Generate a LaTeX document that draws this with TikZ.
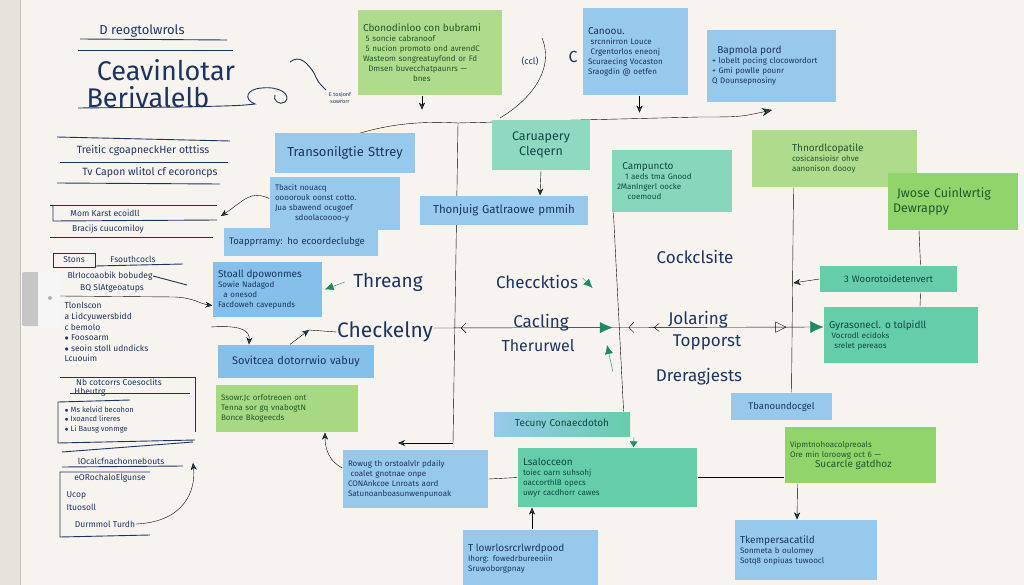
\documentclass[tikz,border=0pt]{standalone}
\usepackage{fontspec}
\setmainfont{Fira Sans}
\usetikzlibrary{arrows.meta,decorations.markings,backgrounds}

\definecolor{board}{HTML}{F7F4EF}
\definecolor{wall}{HTML}{E6E2DC}
\definecolor{ink}{HTML}{1D3461}
\definecolor{lineink}{HTML}{1F4D5C}
\definecolor{arrowgreen}{HTML}{1E8A62}
\definecolor{bluenote}{HTML}{97C9EC}
\definecolor{bluedeep}{HTML}{84C0EA}
\definecolor{greennote}{HTML}{AEDB8C}
\definecolor{greenvivid}{HTML}{92D46C}
\definecolor{tealnote}{HTML}{66CDAA}
\definecolor{teallight}{HTML}{8FD9C2}
\definecolor{greenink}{HTML}{1E5A2C}
\definecolor{tealink}{HTML}{0F4A44}

\newcommand{\nh}{\fontsize{10}{11.5}\selectfont} % note heading

\begin{document}
\begin{tikzpicture}[x=1pt,y=-1pt,line width=1.2pt,draw=lineink,text=ink,font=\fontsize{8}{10}\selectfont]
	\tikzstyle{note}=[rectangle,inner sep=5pt,align=left]
	\tikzstyle{BN}=[note,fill=bluenote,text=ink]       % BN = blue note
	\tikzstyle{GN}=[note,fill=greennote,text=greenink] % GN = green note
	\tikzstyle{TN}=[note,fill=tealnote,text=tealink]   % TN = teal note
	\tikzstyle{hand}=[inner sep=0pt,text=ink,align=left] % written straight on the board
	\tikzstyle{big}=[hand,font=\fontsize{17}{20}\selectfont]
	\tikzstyle{list}=[hand,font=\fontsize{8.5}{10.6}\selectfont]
	\tikzstyle{tip}=[-{Stealth[length=7pt,width=6pt]}]
	\tikzstyle{gtip}=[arrowgreen,-{Latex[length=9pt,width=8pt]}]
	\useasboundingbox (0,0) rectangle (1024,585);

	% notes
	\node[GN,text width=134pt,minimum height=85pt] (gn1) at (430,52.5) {{\nh Cbonodinloo con bubrami}\\ \ 5 soncie cabranoof\\ \ 5 nucion promoto ond avrendC\\ Wasteom songreatuyfond or Fd\\ \ \ Dmsen buvecchatpaunrs ---\\ \hspace*{50pt}bnes};
	\node[BN,text width=95pt,minimum height=87pt] (bn1) at (635.5,51.5) {{\nh Canoou.}\\ \ srcnnirron Louce\\ \ Crgentorlos eneonj\\ Scuraecing Vocaston\\ Sraogdin @ oetfen};
	\node[BN,text width=119pt,minimum height=72pt] (bn2) at (771.5,66) {\ \ {\nh Bapmola pord}\\ + lobelt pocing clocowordort\\ + Gmi powlle pounr\\ Q Dounsepnosiny};
	\node[BN,text width=130pt,minimum height=40pt,align=center,font=\fontsize{13}{15}\selectfont] (bn3) at (345,153) {Transonilgtie Sttrey};
	\node[BN,text width=120pt,minimum height=53pt] (bn4) at (335,203.5) {Tbacit nouacq\\ oooorouk oonst cotto.\\ Jua sbawend ocugoef\\ \hspace*{20pt}sdoolacoooo-y};
	\node[BN,text width=144pt,minimum height=28pt,font=\fontsize{9.5}{11}\selectfont] (bn5) at (301,242) {Toapprramy: ho ecoordeclubge};
	\node[TN,fill=teallight,text width=88pt,minimum height=50pt,align=center,font=\fontsize{12.5}{15}\selectfont] (tn1) at (541,145) {Caruapery\\ Cleqern};
	\node[BN,text width=158pt,minimum height=29pt,align=center,font=\fontsize{11.5}{13}\selectfont] (bn6) at (504,210.5) {Thonjuig Gatlraowe pmmih};
	\node[TN,fill=teallight!80!tealnote,text width=110pt,minimum height=62pt] (tn2) at (672,181) {\ \ {\nh Campuncto}\\ \ \ \ 1 aeds tma Gnood\\ 2ManIngerl oocke\\ \ \ \ \ coemoud};
	\node[GN,text width=155pt,minimum height=57pt] (gn2) at (834.5,158.5) {\hspace*{35pt}{\nh Thnordlcopatile}\\ \hspace*{35pt}cosicansioisr ohve\\ \hspace*{35pt}aanonison doooy};
	\node[GN,fill=greenvivid,text width=120pt,minimum height=57pt,font=\fontsize{12.5}{15}\selectfont] (gn3) at (953,201.5) {\ Jwose Cuinlwrtig\\ Dewrappy};
	\node[BN,fill=bluedeep,text width=99pt,minimum height=55pt] (bn7) at (267.5,289.5) {{\nh Stoall dpowonmes}\\ Sowie Nadagod\\ \ \ a onesod\\ Facdoweh cavepunds};
	\node[TN,text width=127pt,minimum height=26pt,align=center,font=\fontsize{9.5}{11}\selectfont] (tn3) at (888.5,279) {3 Woorotoidetenvert};
	\node[TN,text width=144pt,minimum height=56pt] (tn4) at (901,335) {{\nh Gyrasonecl. o tolpidll}\\ \ Vocrodl ecidoks\\ \ \ srelet pereaos};
	\node[BN,fill=bluedeep,text width=146pt,minimum height=33pt,align=center,font=\fontsize{11}{13}\selectfont] (bn8) at (296,361.5) {Sovitcea dotorrwio vabuy};
	\node[GN,fill=greennote!70!greenvivid,text width=132pt,minimum height=47pt] (gn4) at (287,408.5) {Ssowr.Jc orfotreoen ont\\ Tenna sor gq vnabogtN\\ Bonce Bkogeecds};
	\node[BN,text width=91pt,minimum height=27pt,align=center,font=\fontsize{9.5}{11}\selectfont] (bn9) at (781.5,406.5) {Tbanoundocgel};
	\node[TN,left color=bluenote,right color=tealnote,text width=126pt,minimum height=24pt,align=center,font=\fontsize{10}{11}\selectfont] (tn5) at (562,424) {Tecuny Conaecdotoh};
	\node[TN,text width=169pt,minimum height=59pt] (tn6) at (607.5,477.5) {{\nh Lsalocceon}\\ toiec oarn suhsohj\\ oaccorthlB opecs\\ uwyr cacdhorr cawes};
	\node[BN,text width=135pt,minimum height=58pt] (bn10) at (415.5,479) {Rowug th orstoalvlr pdaily\\ \ coalet gnotnae onpe\\ CONAnkcoe Lnroats aord\\ Satunoanboasunwenpunoak};
	\node[GN,fill=greenvivid,text width=141pt,minimum height=56pt] (gn5) at (860.5,455) {Vipmtnohoacolpreoals\\ Ore min loroowg oct 6 ---\\ \hspace*{25pt}{\nh Sucarcle gatdhoz}};
	\node[BN,text width=125pt,minimum height=57pt] (bn11) at (530.5,558.5) {{\nh T lowrlosrcrlwrdpood}\\ Ihorg: fowedrbureeoiin\\ Sruwoborgpnay};
	\node[BN,text width=132pt,minimum height=60pt] (bn12) at (806,550) {{\nh Tkempersacatild}\\ Sonmeta b oulomey\\ Sotq8 onpiuas tuwoocl};

	% words on the board
	\node[hand,font=\fontsize{13}{15}\selectfont] (hd1) at (142,31) {D reogtolwrols};
	\node[hand,font=\fontsize{27}{29}\selectfont] (hd2) at (166,70) {Ceavinlotar};
	\node[hand,font=\fontsize{27}{29}\selectfont] (hd3) at (148,97) {Berivalelb};
	\node[hand,font=\fontsize{5.5}{6.5}\selectfont] (esd) at (340,98) {E tosJonf\\ \ sowrorr};
	\node[hand,font=\fontsize{9}{11}\selectfont] (ccl) at (530,61) {(ccl)};
	\node[hand,font=\fontsize{16}{18}\selectfont] (cmk) at (573,57) {C};
	\node[list,font=\fontsize{10.5}{12}\selectfont] (l1) at (143,151) {Treitic cgoapneckHer otttiss};
	\node[list,font=\fontsize{10.5}{12}\selectfont] (l2) at (150,173) {Tv Capon wlitol cf ecoroncps};
	\node[list] (l3) at (105,213) {Mom Karst ecoidll};
	\node[list] (l4) at (108,229) {Bracijs cuucomiloy};
	\node[list] (l5) at (74,260) {Stons};
	\node[list] (l6) at (133,259) {Fsouthcocls};
	\node[list] (l7) at (110,276) {BlrIocoaobik bobudeg};
	\node[list] (l8) at (112,288) {BQ SlAtgeoatups};
	\node[list,anchor=north west] (l9) at (64,302) {Tlonlscon\\ a Lidcyuwersbidd\\ c bemolo\\ $\bullet$ Foosoarm\\ $\bullet$ seoin stoll udndicks\\ Lcuouim};
	\node[list] (l10) at (119,382) {Nb cotcorrs Coesoclits};
	\node[list] (l11) at (90,392) {Hbeutrg};
	\node[list,anchor=north west,font=\fontsize{7.5}{9.5}\selectfont] (l12) at (64,406) {$\bullet$ Ms kelvid becohon\\ $\bullet$ Ixoancd lireres\\ $\bullet$ Li Bausg vonmge};
	\node[list] (l13) at (121,461) {lOcalcfnachonnebouts};
	\node[list] (l14) at (110,478) {eORochaloElgunse};
	\node[list,anchor=north west,font=\fontsize{8.5}{13}\selectfont] (l15) at (66,491) {Ucop\\ Ituosoll};
	\node[list] (dur) at (105,524) {Durmmol Turdh};
	\node[big,font=\fontsize{19}{22}\selectfont] (thr) at (388,282) {Threang};
	\node[big,font=\fontsize{21}{23}\selectfont] (chkl) at (385,332) {Checkelny};
	\node[big] (chks) at (537,282) {Checcktios};
	\node[big] (cal) at (541,323) {Cacling};
	\node[big,font=\fontsize{16}{18}\selectfont] (ther) at (538,346) {Therurwel};
	\node[big] (cock) at (695,257) {Cockclsite};
	\node[big] (jol) at (698,320) {Jolaring};
	\node[big] (topp) at (707,342) {Topporst};
	\node[big] (drer) at (699,377) {Dreragjests};

	\begin{scope}[on background layer]
	\fill[board] (0,0) rectangle (1024,585);
	\fill[wall] (0,0) rectangle (20,585);
	\draw[line width=0.6pt,gray!50] (20,0) -- (20,585);
	% the magnet clip
	\fill[gray!45,rounded corners=2pt] (22,272) rectangle (42,326);
	\fill[white!92!gray,rounded corners=2pt] (38,271) rectangle (62,328);
	\fill[gray!60] (50,298) circle (2);

	% underlines and frames of the lists
	\begin{scope}[draw=ink,line width=0.9pt]
	\draw (80,39) -- (227,40);
	\draw (78,50) -- (233,50);
	\draw (78,108) -- (183,107) .. controls (220,106) and (240,106) .. (255,104) .. controls (244,100) and (245,89) .. (262,88) .. controls (280,86) and (292,95) .. (285,102) .. controls (280,106) and (272,100) .. (275,95);
	\draw (290,62) .. controls (300,54) and (308,64) .. (314,73) .. controls (318,82) .. (326,90);
	\draw (57,137) -- (230,141);
	\draw (60,162) -- (228,162);
	\draw (57,183) -- (220,184);
	\draw (50,205) -- (217,205);
	\draw (53,205) -- (53,221) -- (217,220);
	\draw (50,237) -- (213,237);
	\draw (53,253) rectangle (95,267);
	\draw (95,266) -- (183,264);
	\draw (l7.east) -- (187,285);
	\draw (60,377) -- (195,377) -- (195,432);
	\draw (70,393) -- (190,393);
	\draw (130,400) -- (58,402) -- (58,443) -- (195,440);
	\draw (62,452) -- (193,442);
	\draw (62,467) -- (183,466);
	\draw (150,472) -- (60,472) -- (60,537) -- (150,535);
	\end{scope}

	% connectors
	\coordinate (v1a) at (458,123);
	\coordinate (v1b) at (453,443);
	\coordinate (h1) at (398,443);
	\draw (v1a) -- (v1b);
	\draw[tip] (v1b) -- (h1);
	\draw[-{Stealth[length=10pt,width=8pt]}] (357,134) .. controls (390,124) and (420,121) .. (v1a) -- (700,117) .. controls (740,117) .. (772,110);
	\draw (500,118) .. controls (530,100) and (555,70) .. (542,38);
	\draw ([xshift=2pt]tn2.south west) -- ([xshift=-7pt]tn5.north east);
	\draw ([xshift=-41pt]gn2.south) -- ([xshift=10pt]bn9.north);
	\draw ([xshift=-34pt]gn3.south) -- ([xshift=32pt]tn3.north);
	\draw ([xshift=32pt]tn3.south) -- ([xshift=19pt]tn4.north);
	\draw[tip] (tn3.west) -- ++(-26,4);
	\draw[postaction={decorate},decoration={markings,
		mark=at position 0.07 with {\arrowreversed{Straight Barb[length=5pt,width=10pt]}},
		mark=at position 0.46 with {\arrow[arrowgreen]{Latex[length=13pt,width=11pt]}},
		mark=at position 0.50 with {\arrowreversed{Straight Barb[length=5pt,width=10pt]}},
		mark=at position 0.565 with {\arrowreversed{Straight Barb[length=5pt,width=8pt]}},
		mark=at position 0.905 with {\arrow{Triangle[open,length=11pt,width=11pt]}}},
		-{Latex[length=13pt,width=12pt,color=arrowgreen]}] ([yshift=4pt]chkl.east) -- ([yshift=8pt]tn4.west);
	\draw[gtip] ([xshift=-8pt]thr.west) -- ([xshift=2pt]bn7.east);
	\coordinate (k1) at (309,330);
	\draw (chkl.west) -- (k1);
	\draw[tip] ([xshift=-6pt]bn8.north) -- (k1);
	\draw[gtip] ([xshift=4pt,yshift=4pt]chks.east) -- ++(10,10);
	\coordinate (g1) at (613,372);
	\draw[gtip] (g1) -- (607,345);
	\draw[tip] (60,296) -- (175,297) .. controls (195,298) and (200,304) .. ([yshift=-16pt]bn7.west);
	\draw[tip] (211,327) .. controls (240,325) and (250,330) .. ([xshift=-47pt]bn8.north);
	\draw[tip] ([yshift=5pt]bn4.west) .. controls (250,190) and (245,200) .. (221,216);
	\draw[tip] (dur.east) .. controls (185,522) and (196,490) .. (193,463);
	\draw[tip] ([yshift=11pt]bn10.west) .. controls (330,462) and (325,450) .. ([xshift=38pt]gn4.south);
	\draw (bn10.east) -- (tn6.west);
	\draw (tn6.east) -- (gn5.west |- tn6.east);
	\draw[tip] ([xshift=-63pt]gn5.south) -- ([xshift=-9pt]bn12.north);
	\draw[tip] ([xshift=1.5pt]bn11.north) -- ([xshift=-75.5pt]tn6.south);
	\draw[arrowgreen,-{Latex[length=6pt,width=8pt]}] ([xshift=72pt]tn5.south) -- ([xshift=26pt]tn6.north);
	\draw[tip] (tn1.south) -- ([xshift=36pt]bn6.north);
	\draw[tip] ([xshift=-8pt]gn1.south) -- ++(0,14);
	\draw[tip] ([xshift=4pt]bn1.south) -- ++(0,17);
	\end{scope}
\end{tikzpicture}
\end{document}
